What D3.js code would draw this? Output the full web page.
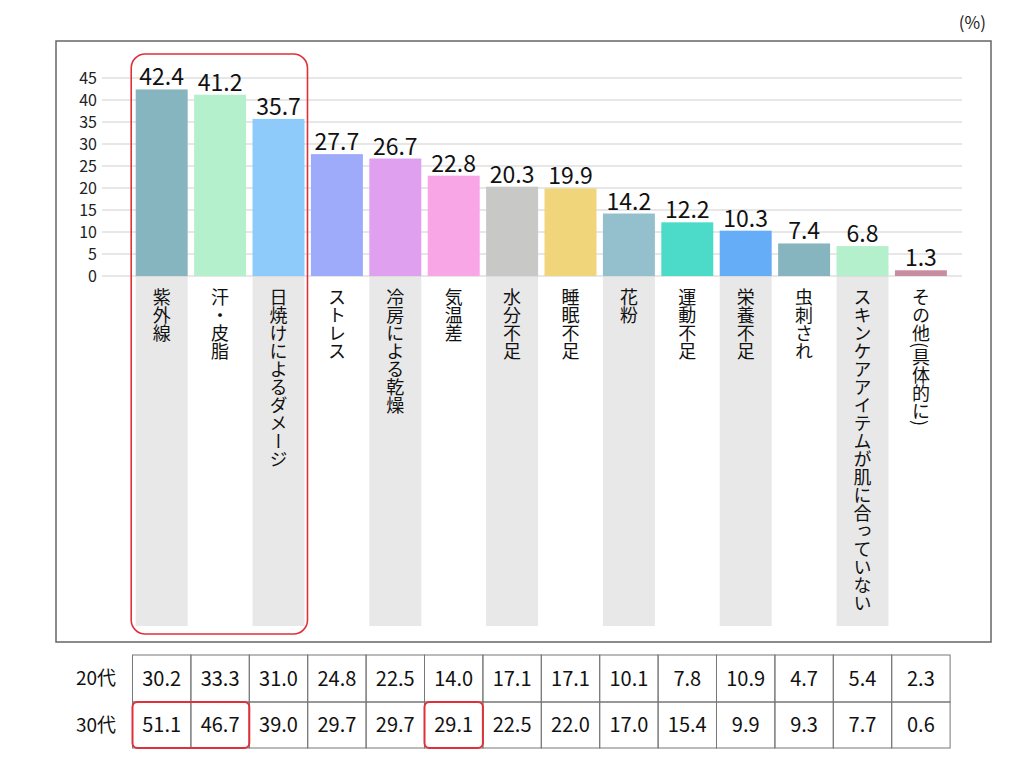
<!DOCTYPE html>
<html><head><meta charset="utf-8">
<script src="https://cdn.jsdelivr.net/npm/d3@7"></script>
<style>
html,body{margin:0;padding:0;background:#fff;}
svg{display:block;font-family:"Noto Sans CJK JP","Noto Sans",sans-serif;}
</style></head>
<body><svg id="c" width="1024" height="760"></svg>
<script>
const categories = ["紫外線","汗・皮脂","日焼けによるダメージ","ストレス","冷房による乾燥","気温差","水分不足","睡眠不足","花粉","運動不足","栄養不足","虫刺され","スキンケアアイテムが肌に合っていない","その他(具体的に)"];
const totals = [42.4,41.2,35.7,27.7,26.7,22.8,20.3,19.9,14.2,12.2,10.3,7.4,6.8,1.3];
const age20 = [30.2,33.3,31.0,24.8,22.5,14.0,17.1,17.1,10.1,7.8,10.9,4.7,5.4,2.3];
const age30 = [51.1,46.7,39.0,29.7,29.7,29.1,22.5,22.0,17.0,15.4,9.9,9.3,7.7,0.6];
const rowLabels = ["20代","30代"];
const yTicks = [0,5,10,15,20,25,30,35,40,45];
const barColors = ["#86b5bf","#b5f0cc","#8ecbfb","#9eabfa","#e0a0f0","#f9a6e6","#c8c9c6","#f0d57a","#93c0cc","#4ddbc9","#65aef7","#86b5bf","#b5f0cc","#c98da0"];
const highlightBars = [0,1,2];
const highlightCells30 = [[0,1],[5,5]];

const svg = d3.select("#c");
const x = d3.scaleBand().domain(categories).range([132.5,950.1]).paddingInner(0.11).paddingOuter(0.055);
const y = d3.scaleLinear().domain([0,45]).range([276,78]);
const step = x.step();
const halfGap = (step - x.bandwidth())/2;

// frame
svg.append("rect").attr("x",56).attr("y",41).attr("width",935).attr("height",601)
  .attr("fill","none").attr("stroke","#666").attr("stroke-width",1.5);
svg.append("text").attr("x",986).attr("y",29).attr("text-anchor","end").attr("font-size",17).attr("fill","#222").text("(%)");

// grey label columns
svg.append("g").selectAll("rect").data(categories.filter((d,i)=>i%2===0)).join("rect")
  .attr("x",d=>x(d)).attr("y",y(0)).attr("width",x.bandwidth()).attr("height",626-y(0)).attr("fill","#e8e8e8");

// gridlines
svg.append("g").selectAll("line").data(yTicks).join("line")
  .attr("x1",102).attr("x2",962).attr("y1",d=>y(d)).attr("y2",d=>y(d))
  .attr("stroke","#cfcfcf").attr("stroke-width",1);

// y axis labels
const yAxis = d3.axisLeft(y).tickValues(yTicks).tickSize(0).tickPadding(0);
const ga = svg.append("g").attr("transform","translate(97,0)").call(yAxis);
ga.select(".domain").remove();
ga.selectAll("text").attr("font-size",16).attr("fill","#222").attr("font-family","'Noto Sans CJK JP',sans-serif");

// bars
svg.append("g").selectAll("rect").data(categories).join("rect")
  .attr("x",d=>x(d)).attr("y",(d,i)=>y(totals[i])).attr("width",x.bandwidth())
  .attr("height",(d,i)=>y(0)-y(totals[i])).attr("fill",(d,i)=>barColors[i]);

// value labels
svg.append("g").selectAll("text").data(categories).join("text")
  .attr("x",d=>x(d)+x.bandwidth()/2).attr("y",(d,i)=>y(totals[i])-4)
  .attr("text-anchor","middle").attr("font-size",23).attr("fill","#111")
  .text((d,i)=>totals[i].toFixed(1));

// vertical category labels
svg.append("g").selectAll("text").data(categories).join("text")
  .attr("x",d=>x(d)+x.bandwidth()/2).attr("y",288)
  .attr("font-size",18).attr("fill","#111")
  .style("writing-mode","vertical-rl").style("text-orientation","mixed")
  .text(d=>d);

// red highlight box around bars
const hb0 = x(categories[highlightBars[0]]) - 4.5;
const hb1 = x(categories[highlightBars[highlightBars.length-1]]) + x.bandwidth() + 3;
svg.append("rect").attr("x",hb0).attr("y",54).attr("width",hb1-hb0).attr("height",580).attr("rx",14)
  .attr("fill","none").attr("stroke","#e0303a").attr("stroke-width",1.6);

// table
const rowTop = [655,702];
const rowH = [47,46];
const tbl = svg.append("g");
[age20,age30].forEach((vals,r)=>{
  tbl.append("text").attr("x",96).attr("y",rowTop[r]+rowH[r]/2).attr("dy","0.35em")
    .attr("text-anchor","middle").attr("font-size",19).attr("fill","#111").text(rowLabels[r]);
  tbl.selectAll(null).data(categories).join("rect")
    .attr("x",d=>x(d)-halfGap).attr("y",rowTop[r]).attr("width",step).attr("height",rowH[r])
    .attr("fill","none").attr("stroke","#777").attr("stroke-width",1);
  tbl.selectAll(null).data(categories).join("text")
    .attr("x",d=>x(d)+x.bandwidth()/2).attr("y",rowTop[r]+rowH[r]/2).attr("dy","0.35em")
    .attr("text-anchor","middle").attr("font-size",20).attr("fill","#111")
    .text((d,i)=>vals[i].toFixed(1));
});
highlightCells30.forEach(([a,b])=>{
  const x0 = x(categories[a]) - halfGap;
  const x1 = x(categories[b]) - halfGap + step;
  tbl.append("rect").attr("x",x0).attr("y",rowTop[1]).attr("width",x1-x0).attr("height",rowH[1]).attr("rx",5)
    .attr("fill","none").attr("stroke","#e0303a").attr("stroke-width",2);
});
</script></body></html>
